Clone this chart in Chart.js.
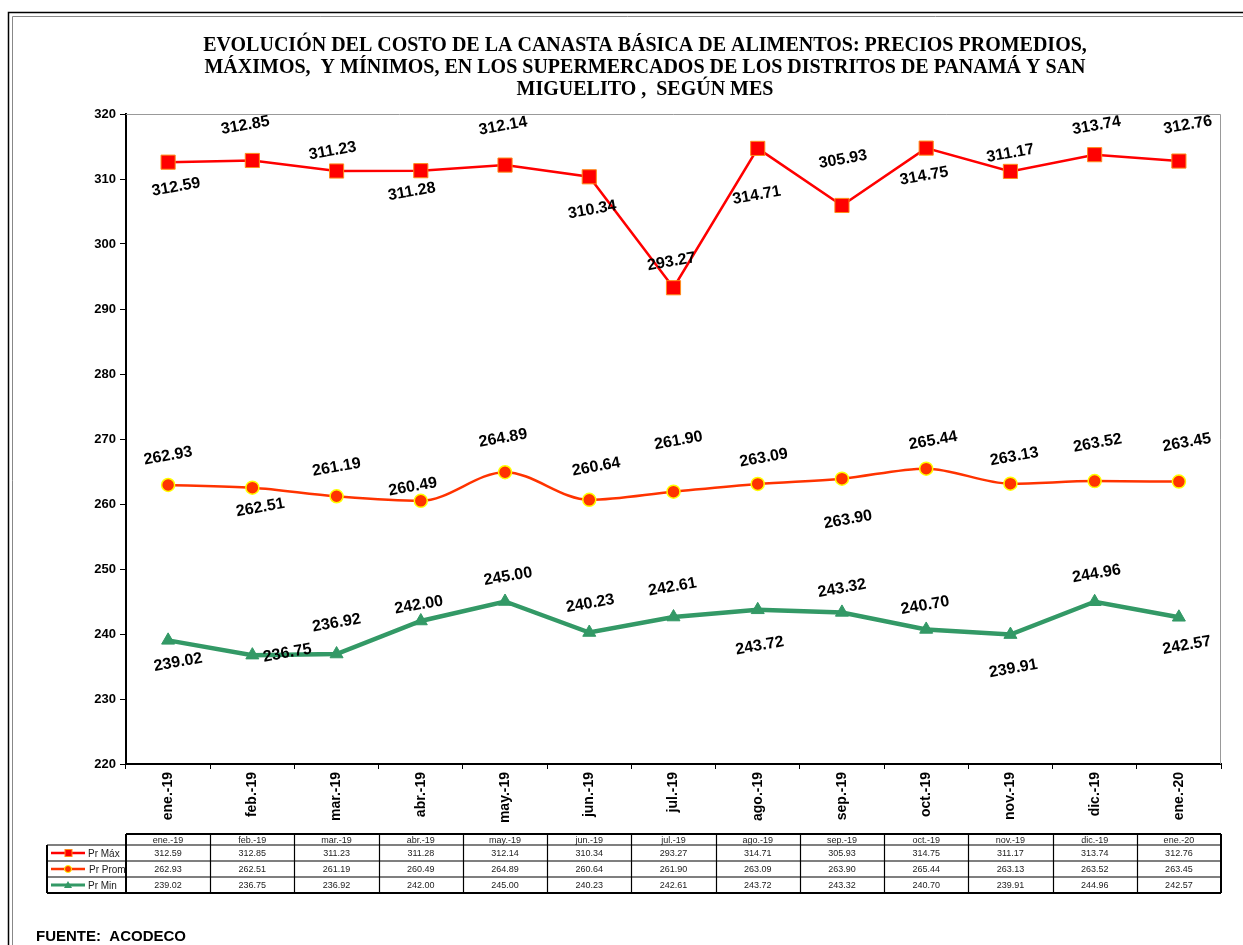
<!DOCTYPE html>
<html>
<head>
<meta charset="utf-8">
<script src="https://cdn.jsdelivr.net/npm/chart.js@4.4.1/dist/chart.umd.min.js"></script>
<style>
html,body{margin:0;padding:0;background:#fff;}
#wrap{width:1243px;height:945px;position:relative;}
</style>
</head>
<body>
<div id="wrap"><canvas id="c" width="1243" height="945"></canvas></div>
<script>
// ---- DATA ----
const months = ["ene.-19","feb.-19","mar.-19","abr.-19","may.-19","jun.-19","jul.-19","ago.-19","sep.-19","oct.-19","nov.-19","dic.-19","ene.-20"];
const prMax  = [312.59,312.85,311.23,311.28,312.14,310.34,293.27,314.71,305.93,314.75,311.17,313.74,312.76];
const prProm = [262.93,262.51,261.19,260.49,264.89,260.64,261.90,263.09,263.90,265.44,263.13,263.52,263.45];
const prMin  = [239.02,236.75,236.92,242.00,245.00,240.23,242.61,243.72,243.32,240.70,239.91,244.96,242.57];
const seriesNames = ["Pr Máx","Pr Prom","Pr Min"];
const yTicks = [220,230,240,250,260,270,280,290,300,310,320];
const titleLines = [
  "EVOLUCIÓN DEL COSTO DE LA CANASTA BÁSICA DE ALIMENTOS: PRECIOS PROMEDIOS,",
  "MÁXIMOS,  Y MÍNIMOS, EN LOS SUPERMERCADOS DE LOS DISTRITOS DE PANAMÁ Y SAN",
  "MIGUELITO ,  SEGÚN MES"
];
const sourceText = "FUENTE:  ACODECO";

// ---- label placement (pixel offsets from each point, styling only) ----
const labelOffsets = [
  [[8,25],[-7,-35],[-4,-20],[-9,21],[-2,-39],[3,33],[-2,-26],[-1,47],[1,-46],[-2,28],[0,-18],[2,-29],[9,-36]],
  [[0,-29],[8,20],[0,-29],[-8,-14],[-2,-34],[7,-33],[5,-51],[6,-26],[6,41],[7,-28],[4,-27],[3,-38],[8,-39]],
  [[10,22],[35,-2],[0,-31],[-2,-16],[3,-25],[1,-29],[-1,-30],[2,36],[0,-24],[-1,-24],[3,34],[2,-28],[8,28]]
];

const SANS = "'Liberation Sans', Arial, sans-serif";
const SERIF = "'Liberation Serif', 'Times New Roman', serif";

const decor = {
  id: 'decor',
  beforeDraw(chart) {
    const ctx = chart.ctx;
    ctx.save();
    ctx.fillStyle = '#fff';
    ctx.fillRect(0,0,chart.width,chart.height);
    // frame
    ctx.strokeStyle = '#000'; ctx.lineWidth = 1.5;
    ctx.beginPath(); ctx.moveTo(8.5, 945); ctx.lineTo(8.5, 12.5); ctx.lineTo(1243, 12.5); ctx.stroke();
    ctx.strokeStyle = '#888'; ctx.lineWidth = 1;
    ctx.beginPath(); ctx.moveTo(12.5, 945); ctx.lineTo(12.5, 16.5); ctx.lineTo(1243, 16.5); ctx.stroke();
    // title
    ctx.fillStyle = '#000';
    ctx.font = "bold 20px " + SERIF;
    ctx.textAlign = 'center'; ctx.textBaseline = 'middle';
    const cx = 645;
    titleLines.forEach((t,i) => ctx.fillText(t, cx, 46 + i*22));
    // source
    ctx.font = "bold 15px " + SANS;
    ctx.textAlign = 'left';
    ctx.fillText(sourceText, 36, 937);
    ctx.restore();
  },
  afterDraw(chart) {
    const ctx = chart.ctx, a = chart.chartArea;
    ctx.save();
    // gray top/right border of plot area
    ctx.strokeStyle = '#999'; ctx.lineWidth = 1;
    ctx.beginPath(); ctx.moveTo(a.left, a.top + 0.5); ctx.lineTo(a.right - 0.5, a.top + 0.5); ctx.lineTo(a.right - 0.5, a.bottom); ctx.stroke();

    // data table
    const xs = chart.scales.x;
    const step = xs.getPixelForValue(1) - xs.getPixelForValue(0);
    const left = a.left, right = a.right;
    const legL = 47;
    const rows = [834, 845, 861, 877, 893];
    ctx.strokeStyle = '#000';
    ctx.lineWidth = 2;
    ctx.beginPath();
    ctx.moveTo(left, rows[0]); ctx.lineTo(right, rows[0]);
    ctx.moveTo(right, rows[0]); ctx.lineTo(right, rows[4]);
    ctx.moveTo(legL, rows[4]); ctx.lineTo(right, rows[4]);
    ctx.moveTo(legL, rows[1]); ctx.lineTo(legL, rows[4]);
    ctx.moveTo(left, rows[0]); ctx.lineTo(left, rows[4]);
    ctx.stroke();
    ctx.lineWidth = 1.2;
    ctx.beginPath();
    ctx.moveTo(legL, rows[1]); ctx.lineTo(right, rows[1]);
    ctx.moveTo(legL, rows[2]); ctx.lineTo(right, rows[2]);
    ctx.moveTo(legL, rows[3]); ctx.lineTo(right, rows[3]);
    for (let i = 1; i < months.length; i++) {
      const xx = Math.round(left + step*i) + 0.5;
      ctx.moveTo(xx, rows[0]); ctx.lineTo(xx, rows[4]);
    }
    ctx.stroke();
    ctx.fillStyle = '#222';
    ctx.font = "9px " + SANS;
    ctx.textAlign = 'center'; ctx.textBaseline = 'middle';
    const allSeries = [prMax, prProm, prMin];
    months.forEach((m,i) => {
      const cxx = xs.getPixelForValue(i);
      ctx.fillText(m, cxx, (rows[0]+rows[1])/2 + 1);
      allSeries.forEach((s,r) => ctx.fillText(s[i].toFixed(2), cxx, (rows[r+1]+rows[r+2])/2 + 1));
    });
    // legend keys
    chart.data.datasets.forEach((ds, r) => {
      const yy = (rows[r+1]+rows[r+2])/2;
      ctx.strokeStyle = ds.borderColor; ctx.lineWidth = r === 2 ? 3 : 2.5;
      ctx.beginPath(); ctx.moveTo(51, yy); ctx.lineTo(85, yy); ctx.stroke();
      ctx.fillStyle = ds.pointBackgroundColor;
      ctx.strokeStyle = ds.pointBorderColor; ctx.lineWidth = 1;
      if (r === 0) { ctx.fillRect(65, yy-3.5, 7, 7); ctx.strokeRect(65, yy-3.5, 7, 7); }
      else if (r === 1) { ctx.beginPath(); ctx.arc(68, yy, 3.5, 0, Math.PI*2); ctx.fill(); ctx.stroke(); }
      else { ctx.beginPath(); ctx.moveTo(68, yy-4); ctx.lineTo(72, yy+3); ctx.lineTo(64, yy+3); ctx.closePath(); ctx.fill(); }
      ctx.fillStyle = '#222'; ctx.font = "10px " + SANS; ctx.textAlign = 'left';
      ctx.fillText(seriesNames[r], r === 1 ? 89 : 88, yy + 1);
    });

    // data labels
    ctx.fillStyle = '#000';
    ctx.font = "bold 16px " + SANS;
    ctx.textAlign = 'center'; ctx.textBaseline = 'middle';
    chart.data.datasets.forEach((ds, d) => {
      const meta = chart.getDatasetMeta(d);
      meta.data.forEach((pt, i) => {
        const off = labelOffsets[d][i];
        ctx.save();
        ctx.translate(pt.x + off[0], pt.y + off[1]);
        ctx.rotate(-10 * Math.PI / 180);
        ctx.fillText(ds.data[i].toFixed(2), 0, 0);
        ctx.restore();
      });
    });
    ctx.restore();
  }
};

new Chart(document.getElementById('c'), {
  type: 'line',
  data: {
    labels: months,
    datasets: [
      { label: seriesNames[0], data: prMax, borderColor: '#FF0000', borderWidth: 2.5,
        pointStyle: 'rect', pointRadius: 10, pointHoverRadius: 10,
        pointBackgroundColor: '#FF0000', pointBorderColor: '#FF8C1A', pointBorderWidth: 1, tension: 0 },
      { label: seriesNames[1], data: prProm, borderColor: '#FF3300', borderWidth: 2.5,
        pointStyle: 'circle', pointRadius: 6.5, pointHoverRadius: 6.5,
        pointBackgroundColor: '#FF3300', pointBorderColor: '#FFFF00', pointBorderWidth: 1.5, tension: 0.35,
        cubicInterpolationMode: 'monotone' },
      { label: seriesNames[2], data: prMin, borderColor: '#339966', borderWidth: 4.5,
        pointStyle: 'triangle', pointRadius: 7.5, pointHoverRadius: 7.5,
        pointBackgroundColor: '#339966', pointBorderColor: '#339966', pointBorderWidth: 1, tension: 0 }
    ]
  },
  options: {
    responsive: false,
    animation: false,
    devicePixelRatio: 1,
    layout: { padding: { left: 66, top: 114, right: 22, bottom: 111 } },
    plugins: { legend: { display: false }, title: { display: false }, tooltip: { enabled: false } },
    scales: {
      x: {
        type: 'category', offset: true,
        grid: { drawOnChartArea: false, drawTicks: true, tickLength: 5, color: '#000', offset: true },
        border: { display: true, color: '#000', width: 2 },
        ticks: { maxRotation: 90, minRotation: 90, autoSkip: false, color: '#000', padding: 3,
                 font: { family: SANS, size: 14, weight: 'bold' } },
        afterFit(s) { s.height = 70; }
      },
      y: {
        min: 220, max: 320,
        afterBuildTicks(s) { s.ticks = yTicks.map(v => ({ value: v })); },
        grid: { drawOnChartArea: false, drawTicks: true, tickLength: 6, color: '#000' },
        border: { display: true, color: '#000', width: 2 },
        ticks: { color: '#000', padding: 4, font: { family: SANS, size: 13, weight: 'bold' } },
        afterFit(s) { s.width = 60; }
      }
    }
  },
  plugins: [decor]
});
</script>
</body>
</html>
